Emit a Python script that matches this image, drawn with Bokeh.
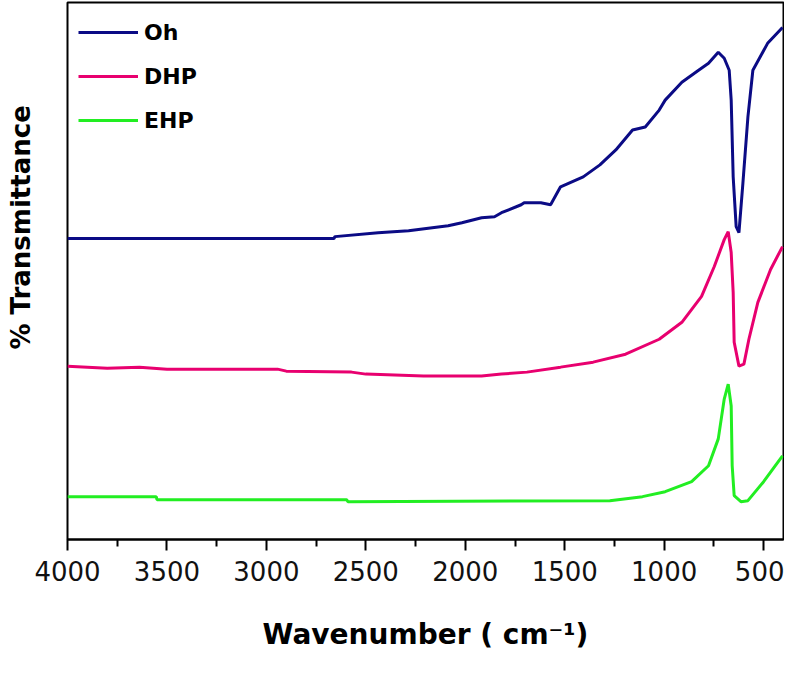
from bokeh.plotting import figure
from bokeh.models import Range1d, FixedTicker, Legend, LegendItem, Title
from bokeh.embed import file_html
from bokeh.resources import INLINE

# Wavenumber (cm-1) and transmittance (arbitrary, offset units)
oh_wn = [4000, 3500, 3000, 2661, 2655, 2438, 2285, 2166, 2086, 2017, 1918, 1853, 1818, 1719,
         1704, 1620, 1571, 1521, 1407, 1323, 1243, 1159, 1095, 1025, 995, 911, 827, 777, 728,
         698, 673, 663, 653, 638, 624, 604, 579, 554, 480, 405]
oh_t = [302, 302, 302, 302, 304, 308, 310, 313, 315, 318, 323, 324, 328, 336,
        338, 338, 336, 354, 364, 376, 391, 411, 414, 431, 441, 459, 471, 478, 489,
        483, 471, 441, 364, 314, 308, 358, 424, 471, 498, 514]

dhp_wn = [4000, 3800, 3638, 3500, 2944, 2900, 2572, 2500, 2210, 1918, 1818, 1690, 1521, 1357,
          1194, 1025, 911, 812, 748, 698, 678, 663, 653, 648, 624, 599, 574, 529, 465, 405]
dhp_t = [174, 172, 173, 171, 171, 169, 168, 166, 164, 164, 166, 168, 173, 178,
         186, 201, 218, 244, 274, 301, 309, 288, 248, 198, 174, 176, 201, 238, 271, 294]

ehp_wn = [4000, 3554, 3550, 2597, 2590, 1273, 1109, 995, 862, 777, 728, 698, 678, 663,
          658, 648, 614, 579, 500, 405]
ehp_t = [43, 43, 40, 40, 38, 39, 43, 48, 58, 74, 101, 141, 156, 134,
         74, 44, 38, 39, 58, 84]

major_ticks = [4000, 3500, 3000, 2500, 2000, 1500, 1000, 500]
minor_ticks = [3750, 3250, 2750, 2250, 1750, 1250, 750]

series = [("Oh", oh_wn, oh_t, "#0b0b85"),
          ("DHP", dhp_wn, dhp_t, "#e8006f"),
          ("EHP", ehp_wn, ehp_t, "#22ee22")]

p = figure(width=784, height=657, output_backend="svg", toolbar_location=None,
           x_range=Range1d(4000, 400), y_range=Range1d(0, 539),
           min_border_left=67, min_border_right=1, min_border_top=2, min_border_bottom=118)

p.background_fill_color = "white"
p.border_fill_color = "white"
p.grid.visible = False
p.outline_line_color = "black"
p.outline_line_width = 2

# empty y axis used only as a spacer between the frame and the vertical title
yax = p.yaxis[0]
yax.ticker = FixedTicker(ticks=[])
yax.axis_line_color = None
yax.major_tick_out = 0
yax.major_tick_in = 0
yax.minor_tick_out = 0
yax.minor_tick_in = 0
yax.major_label_standoff = 0
yax.axis_label = " "
yax.axis_label_text_font_size = "10px"
yax.axis_label_standoff = 15

ax = p.xaxis[0]
ax.ticker = FixedTicker(ticks=major_ticks, minor_ticks=minor_ticks)
ax.axis_line_color = "black"
ax.axis_line_width = 2
ax.major_tick_line_width = 2
ax.minor_tick_line_width = 2
ax.major_tick_out = 11
ax.major_tick_in = 0
ax.minor_tick_out = 7
ax.minor_tick_in = 0
ax.major_label_text_font = "DejaVu Sans"
ax.major_label_text_font_size = "26px"
ax.major_label_text_color = "#111111"
ax.major_label_standoff = 10
ax.axis_label = "Wavenumber ( cm\u207b\u00b9)"
ax.axis_label_text_font = "DejaVu Sans"
ax.axis_label_text_font_style = "bold"
ax.axis_label_text_font_size = "28px"
ax.axis_label_text_color = "black"
ax.axis_label_standoff = 34

items = []
for name, wn, t, col in series:
    r = p.line(wn, t, line_color=col, line_width=3)
    items.append(LegendItem(label=name, renderers=[r]))

legend = Legend(items=items, location="top_left", margin=11, padding=0,
                glyph_width=60, glyph_height=38, label_height=38, spacing=6,
                label_standoff=6, label_text_font="DejaVu Sans",
                label_text_font_style="bold", label_text_font_size="22px",
                label_text_color="black",
                border_line_color=None, background_fill_alpha=0)
p.add_layout(legend)

ytitle = Title(text="% Transmittance", align="left", offset=190, standoff=6,
               text_font="DejaVu Sans", text_font_style="bold",
               text_font_size="26px", text_color="black")
p.add_layout(ytitle, "left")

open("out.html", "w").write(file_html(p, INLINE))
